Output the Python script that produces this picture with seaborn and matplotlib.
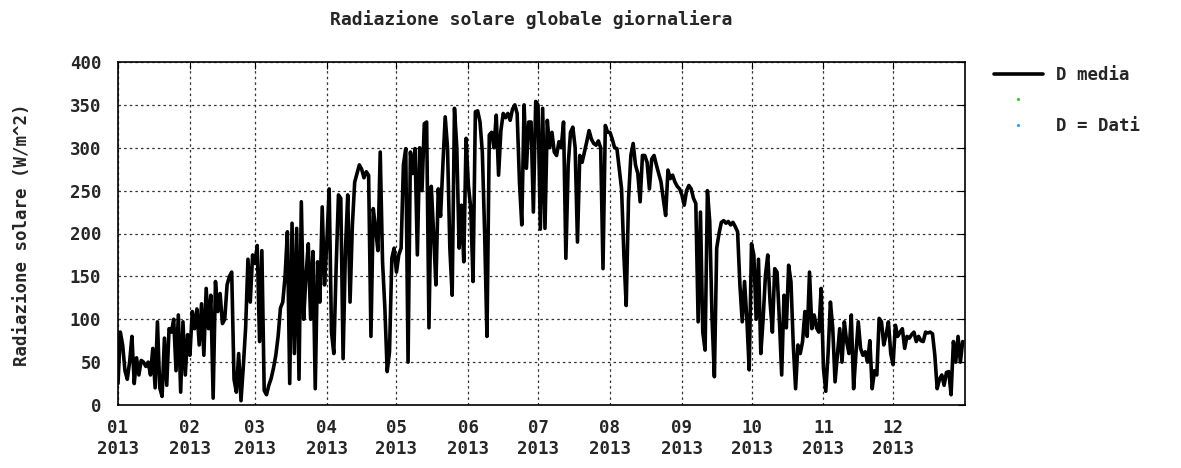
import matplotlib
matplotlib.use("Agg")
import matplotlib.pyplot as plt
from matplotlib.lines import Line2D
import pandas as pd
import seaborn as sns

# valori giornalieri (W/m^2), un mese per lista
gen = [25, 85, 70, 40, 30, 50, 80, 25, 55, 35, 52, 50, 45, 50, 35, 66, 20, 97, 20, 10,
       78, 23, 89, 85, 100, 40, 105, 15, 97, 35, 82]
feb = [58, 109, 89, 112, 70, 118, 58, 136, 89, 128, 8, 144, 109, 130, 95, 100, 140, 150,
       155, 30, 15, 60, 5, 45, 90, 170, 120, 175]
mar = [165, 186, 74, 180, 17, 12, 23, 31, 43, 58, 80, 113, 120, 150, 202, 25, 212, 60, 206,
       30, 237, 100, 150, 188, 100, 179, 19, 167, 120, 231, 140]
apr = [190, 252, 85, 60, 160, 245, 241, 54, 180, 245, 120, 210, 260, 270, 280, 275, 265,
       272, 268, 80, 229, 206, 180, 295, 167, 113, 39, 62, 171, 183]
mag = [155, 175, 183, 280, 299, 50, 295, 270, 299, 175, 300, 250, 328, 330, 90, 255, 200,
       140, 252, 220, 280, 336, 300, 183, 128, 346, 300, 183, 233, 167, 311]
giu = [256, 230, 144, 342, 343, 330, 295, 200, 80, 315, 318, 300, 338, 268, 320, 340, 335,
       340, 332, 345, 350, 340, 260, 210, 350, 276, 330, 330, 225, 354]
lug = [350, 205, 346, 206, 332, 300, 318, 295, 291, 307, 300, 330, 171, 280, 318, 324, 300,
       190, 291, 283, 295, 307, 320, 310, 305, 303, 308, 300, 159, 326, 318]
ago = [318, 310, 300, 299, 276, 252, 175, 116, 240, 291, 305, 280, 270, 237, 291, 291, 283,
       252, 287, 291, 280, 270, 260, 240, 221, 274, 264, 268, 260, 255, 252]
set_ = [245, 233, 250, 256, 252, 241, 235, 97, 225, 85, 64, 250, 214, 100, 33, 183, 200,
        213, 215, 212, 214, 210, 213, 208, 202, 140, 97, 144, 100, 41]
ott = [188, 175, 100, 170, 60, 100, 151, 175, 120, 85, 159, 155, 100, 35, 128, 90, 163,
       144, 70, 19, 70, 60, 74, 109, 80, 155, 89, 105, 90, 85, 136]
nov = [43, 16, 60, 120, 90, 27, 58, 89, 50, 97, 74, 60, 105, 19, 60, 97, 66, 58, 62, 50,
       75, 19, 40, 35, 101, 97, 70, 82, 97, 60]
dic = [47, 93, 80, 85, 89, 66, 80, 78, 82, 85, 74, 80, 75, 74, 85, 84, 85, 83, 58, 19, 30,
       35, 23, 38, 39, 12, 74, 50, 80, 50, 74]

mesi = ["01", "02", "03", "04", "05", "06", "07", "08", "09", "10", "11", "12"]
anno = "2013"
y_ticks = [0, 50, 100, 150, 200, 250, 300, 350, 400]

valori = gen + feb + mar + apr + mag + giu + lug + ago + set_ + ott + nov + dic
df = pd.DataFrame({"data": pd.date_range("2013-01-01", periods=len(valori), freq="D"),
                   "radiazione": valori})

sns.set_style("white")
plt.rcParams['font.family'] = ['DejaVu Sans Mono', 'DejaVu Sans']
plt.rcParams['font.weight'] = 'bold'
fs = 12.5

W, H = 1181, 468
fig = plt.figure(figsize=(W / 100, H / 100), dpi=100)
ax = fig.add_axes([118 / W, 1 - 405 / H, (965 - 118) / W, (405 - 62) / H])

sns.lineplot(data=df, x="data", y="radiazione", color="black", linewidth=2.6,
             ax=ax, legend=False)

ax.set_xlim(pd.Timestamp("2013-01-01"), pd.Timestamp("2014-01-01"))
ax.set_ylim(0, 400)
ax.set_yticks(y_ticks)
ax.set_yticklabels([str(v) for v in y_ticks])
ax.set_xticks(pd.date_range("2013-01-01", periods=12, freq="MS"))
ax.set_xticklabels([m + "\n" + anno for m in mesi])
ax.set_xlabel("")
ax.set_ylabel("")

ax.grid(True, color="#333333", linestyle=(0, (2, 2.5)), linewidth=0.9)
ax.tick_params(direction="in", length=5, top=True, right=True, labelsize=fs,
               color="black")
ax.tick_params(axis="y", pad=12)
ax.tick_params(axis="x", pad=10)
for s in ax.spines.values():
    s.set_color("black")
    s.set_linewidth(1.2)

fig.text(531 / W, 1 - 20 / H, "Radiazione solare globale giornaliera",
         ha="center", va="center", fontsize=13, fontweight="bold")
fig.text(22 / W, 1 - 235 / H, "Radiazione solare (W/m^2)", rotation=90,
         ha="center", va="center", fontsize=fs, fontweight="bold")

handles = [Line2D([], [], color="black", linewidth=2.6),
           Line2D([], [], linestyle="none", marker=".", color="#33cc33", markersize=2.5),
           Line2D([], [], linestyle="none", marker=".", color="#3399ff", markersize=2.5)]
fig.legend(handles, ["D media", "", "D = Dati"], loc="upper left",
           bbox_to_anchor=(994 / W, 1 - 66 / H), frameon=False, handlelength=2.8,
           handletextpad=0.8, labelspacing=0.42, borderaxespad=0, borderpad=0,
           prop={"size": fs, "weight": "bold"})

fig.savefig("out.png", dpi=100)
